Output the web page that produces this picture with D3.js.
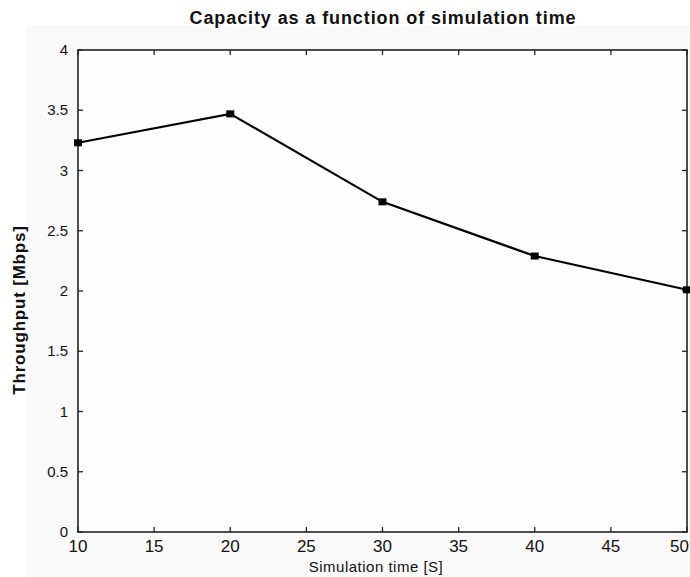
<!DOCTYPE html>
<html>
<head>
<meta charset="utf-8">
<script src="https://cdn.jsdelivr.net/npm/d3@7"></script>
<style>
  body { margin: 0; background: #fff; }
  text { font-family: "Liberation Sans", Arial, Helvetica, sans-serif; fill: #111; }
</style>
</head>
<body>
<script>
let simTime = [10, 20, 30, 40, 50];
let throughput = [3.23, 3.47, 2.74, 2.29, 2.01];
let xTicks = [10, 15, 20, 25, 30, 35, 40, 45, 50];
let yTicks = [0, 0.5, 1, 1.5, 2, 2.5, 3, 3.5, 4];

let W = 690, H = 577;
let pLeft = 78, pRight = 687, pTop = 50, pBottom = 532;

let x = d3.scaleLinear().domain([10, 50]).range([pLeft, pRight]);
let y = d3.scaleLinear().domain([0, 4]).range([pBottom, pTop]);

let svg = d3.select("body").append("svg").attr("width", W).attr("height", H);

// faint figure background
svg.append("rect").attr("x", 25).attr("y", 25).attr("width", W - 25).attr("height", H - 25).attr("fill", "#f9f9f9");
svg.append("rect").attr("x", pLeft).attr("y", pTop).attr("width", pRight - pLeft).attr("height", pBottom - pTop).attr("fill", "#fefefe");

// ticks inside the box, on all four sides
let tk = 5;
let g = svg.append("g").attr("stroke", "#222").attr("stroke-width", 1.3);
g.selectAll("line.xb").data(xTicks).enter().append("line")
  .attr("x1", d => x(d)).attr("x2", d => x(d)).attr("y1", pBottom).attr("y2", pBottom - tk);
g.selectAll("line.xt").data(xTicks).enter().append("line")
  .attr("x1", d => x(d)).attr("x2", d => x(d)).attr("y1", pTop).attr("y2", pTop + tk);
g.selectAll("line.yl").data(yTicks).enter().append("line")
  .attr("x1", pLeft).attr("x2", pLeft + tk).attr("y1", d => y(d)).attr("y2", d => y(d));
g.selectAll("line.yr").data(yTicks).enter().append("line")
  .attr("x1", pRight).attr("x2", pRight - tk).attr("y1", d => y(d)).attr("y2", d => y(d));

// box
svg.append("rect").attr("x", pLeft).attr("y", pTop).attr("width", pRight - pLeft).attr("height", pBottom - pTop)
  .attr("fill", "none").attr("stroke", "#222").attr("stroke-width", 1.6);

// tick labels (last one pulled in so it stays on the page)
let lastX = xTicks[xTicks.length - 1];
svg.selectAll("text.xt").data(xTicks).enter().append("text")
  .attr("x", d => d === lastX ? W - 1 : x(d)).attr("y", 552)
  .attr("text-anchor", d => d === lastX ? "end" : "middle").attr("font-size", 17)
  .text(d => d);
svg.selectAll("text.yt").data(yTicks).enter().append("text")
  .attr("x", 68).attr("y", d => y(d) + 5)
  .attr("text-anchor", "end").attr("font-size", 15)
  .text(d => d);

// data line
let line = d3.line().x((d, i) => x(simTime[i])).y(d => y(d));
svg.append("path").datum(throughput)
  .attr("d", line).attr("fill", "none").attr("stroke", "#000").attr("stroke-width", 2.2);
svg.selectAll("rect.pt").data(throughput).enter().append("rect")
  .attr("x", (d, i) => x(simTime[i]) - 4).attr("y", d => y(d) - 3.5)
  .attr("width", 8).attr("height", 7).attr("fill", "#000");

// titles
svg.append("text").attr("x", 383).attr("y", 24)
  .attr("text-anchor", "middle").attr("font-size", 18).attr("font-weight", "bold")
  .attr("letter-spacing", 0.9)
  .text("Capacity as a function of simulation time");
svg.append("text").attr("x", 376).attr("y", 572)
  .attr("text-anchor", "middle").attr("font-size", 15)
  .attr("letter-spacing", 0.5)
  .text("Simulation time [S]");
svg.append("text").attr("transform", "translate(25,310) rotate(-90)")
  .attr("text-anchor", "middle").attr("font-size", 17).attr("font-weight", "bold")
  .attr("letter-spacing", 0.8)
  .text("Throughput [Mbps]");
</script>
</body>
</html>
